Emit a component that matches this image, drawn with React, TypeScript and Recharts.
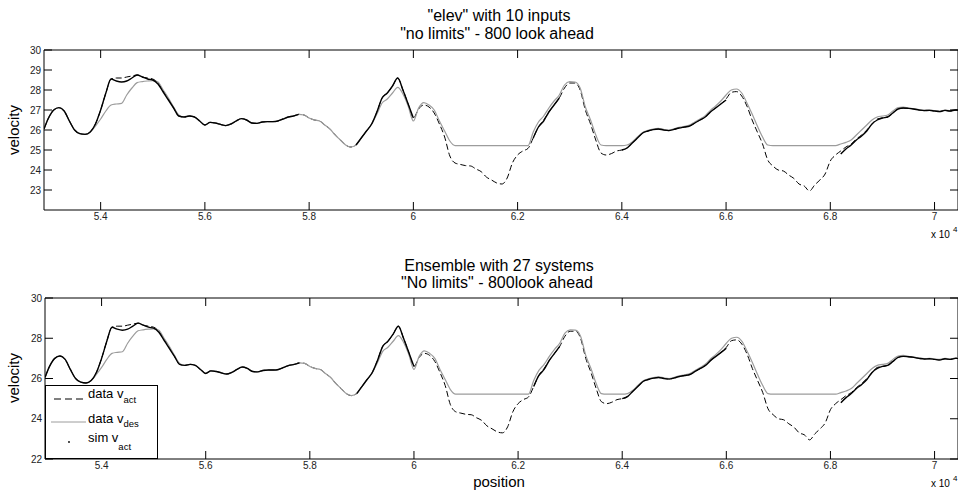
import React from "react";
import { LineChart, Line, XAxis, YAxis, ReferenceArea, Legend } from "recharts";

// position along the track (raw units, axis shows x 10^4)
const positions = [
  52913, 53000, 53100, 53200, 53300, 53400, 53500, 53600, 53700, 53800,
  53900, 54000, 54100, 54200, 54300, 54400, 54500, 54600, 54700, 54800,
  54900, 55000, 55100, 55200, 55300, 55400, 55500, 55600, 55700, 55800,
  55900, 56000, 56100, 56200, 56300, 56400, 56500, 56600, 56700, 56800,
  56900, 57000, 57100, 57200, 57300, 57400, 57500, 57600, 57700, 57800,
  57900, 58000, 58100, 58200, 58300, 58400, 58500, 58600, 58700, 58800,
  58900, 59000, 59100, 59200, 59300, 59400, 59500, 59600, 59700, 59800,
  59900, 60000, 60100, 60200, 60300, 60400, 60500, 60600, 60700, 60800,
  60900, 61000, 61100, 61200, 61300, 61400, 61500, 61600, 61700, 61800,
  61900, 62000, 62100, 62200, 62300, 62400, 62500, 62600, 62700, 62800,
  62900, 63000, 63100, 63200, 63300, 63400, 63500, 63600, 63700, 63800,
  63900, 64000, 64100, 64200, 64300, 64400, 64500, 64600, 64700, 64800,
  64900, 65000, 65100, 65200, 65300, 65400, 65500, 65600, 65700, 65800,
  65900, 66000, 66100, 66200, 66300, 66400, 66500, 66600, 66700, 66800,
  66900, 67000, 67100, 67200, 67300, 67400, 67500, 67600, 67700, 67800,
  67900, 68000, 68100, 68200, 68300, 68400, 68500, 68600, 68700, 68800,
  68900, 69000, 69100, 69200, 69300, 69400, 69500, 69600, 69700, 69800,
  69900, 70000, 70100, 70200, 70300, 70400, 70450,
];

// data v_act (dashed)
const vAct = [
  26.05, 26.6, 27.0, 27.12, 26.95, 26.45, 26.0, 25.82, 25.78, 25.9,
  26.3, 27.0, 27.85, 28.55, 28.6, 28.6, 28.65, 28.7, 28.75, 28.65,
  28.6, 28.55, 28.35, 27.95, 27.55, 27.1, 26.7, 26.65, 26.7, 26.65,
  26.45, 26.25, 26.38, 26.35, 26.28, 26.22, 26.3, 26.45, 26.57, 26.5,
  26.35, 26.33, 26.4, 26.42, 26.42, 26.45, 26.55, 26.65, 26.7, 26.78,
  26.75, 26.6, 26.5, 26.45, 26.25, 26.05, 25.75, 25.5, 25.25, 25.15,
  25.25, 25.6, 25.95, 26.3, 26.9, 27.6, 27.85, 28.2, 28.6, 28.0,
  27.3, 26.6, 27.05, 27.25, 27.15, 26.85, 26.3, 25.65, 24.7, 24.35,
  24.28, 24.22, 24.2, 24.05, 23.92, 23.65, 23.5, 23.35, 23.3, 23.6,
  24.35, 24.75, 24.95, 25.08, 25.6, 26.15, 26.5, 26.9, 27.25, 27.6,
  28.1, 28.35, 28.35, 28.0, 27.0, 26.3, 25.5, 24.85, 24.75, 24.82,
  24.95, 25.0, 25.1, 25.35, 25.6, 25.85, 25.95, 26.02, 26.05, 26.0,
  25.97, 26.03, 26.1, 26.15, 26.2, 26.35, 26.5, 26.65, 26.9, 27.1,
  27.3, 27.55, 27.88, 27.92, 27.7, 27.2, 26.5, 25.9, 25.3, 24.5,
  24.2, 24.0, 23.95, 23.75, 23.58, 23.3, 23.2, 22.95, 23.25, 23.5,
  23.8, 24.45, 24.75, 24.95, 25.15, 25.3, 25.55, 25.75, 26.0, 26.3,
  26.55, 26.6, 26.65, 26.85, 27.05, 27.1, 27.08, 27.05, 27.0, 26.97,
  26.98, 26.95, 26.92, 26.98, 26.95, 27.0, 27.0,
];

// data v_des (gray)
const vDes = [
  26.05, 26.6, 27.0, 27.12, 26.95, 26.45, 26.0, 25.82, 25.78, 25.9,
  26.2, 26.55, 26.95, 27.25, 27.3, 27.33, 27.75, 28.1, 28.37, 28.42,
  28.45, 28.47, 28.4, 28.0, 27.6, 27.15, 26.75, 26.65, 26.7, 26.65,
  26.45, 26.25, 26.38, 26.35, 26.28, 26.22, 26.3, 26.45, 26.57, 26.5,
  26.35, 26.33, 26.4, 26.42, 26.42, 26.45, 26.55, 26.65, 26.7, 26.78,
  26.75, 26.6, 26.5, 26.45, 26.25, 26.05, 25.75, 25.5, 25.25, 25.15,
  25.25, 25.6, 25.95, 26.3, 26.8, 27.35, 27.55, 27.85, 28.13, 27.8,
  27.2, 26.45, 27.1, 27.37, 27.25, 27.0, 26.45, 25.95, 25.45, 25.22,
  25.22, 25.22, 25.22, 25.22, 25.22, 25.22, 25.22, 25.22, 25.22, 25.22,
  25.22, 25.22, 25.22, 25.22, 25.9, 26.4, 26.7, 27.1, 27.45, 27.75,
  28.25, 28.42, 28.4, 28.1, 27.15, 26.5, 25.75, 25.25, 25.22, 25.22,
  25.22, 25.22, 25.25, 25.4, 25.65, 25.88, 25.98, 26.05, 26.08, 26.03,
  26.0, 26.06, 26.13, 26.18, 26.25, 26.4, 26.55, 26.72, 26.98, 27.2,
  27.45, 27.75, 28.0, 28.05, 27.85, 27.35, 26.8, 26.2, 25.65, 25.25,
  25.22, 25.22, 25.22, 25.22, 25.22, 25.22, 25.22, 25.22, 25.22, 25.22,
  25.22, 25.22, 25.22, 25.3, 25.38, 25.5, 25.75, 26.0, 26.25, 26.5,
  26.65, 26.7, 26.75, 26.95, 27.12, 27.15, 27.1, 27.07, 27.02, 26.99,
  27.0, 26.97, 26.95, 27.0, 26.97, 27.02, 27.02,
];

// sim v_act (dots, gaps where not plotted)
const vSim = [
  26.05, 26.6, 27.0, 27.12, 26.95, 26.45, 26.0, 25.82, 25.78, 25.9,
  26.3, 27.0, 27.85, 28.55, 28.45, 28.4, 28.45, 28.6, 28.75, 28.65,
  28.55, 28.5, 28.3, 27.9, 27.5, 27.1, 26.7, 26.65, 26.7, 26.65,
  26.45, 26.25, 26.38, 26.35, 26.28, 26.22, 26.3, 26.45, 26.57, 26.5,
  26.35, 26.33, 26.4, 26.42, 26.42, 26.45, 26.55, 26.65, 26.7, 26.78,
  null, null, null, null, null, null, null, null, null, null,
  25.25, 25.6, 25.95, 26.3, 26.9, 27.6, 27.85, 28.2, 28.6, 28.0,
  27.3, 26.6, null, null, null, null, null, null, null, null,
  null, null, null, null, null, null, null, null, null, null,
  null, null, null, null, 25.6, 26.15, 26.45, 26.9, 27.25, 27.6,
  null, null, null, null, null, null, null, null, null, null,
  null, 25.0, 25.1, 25.35, 25.6, 25.85, 25.95, 26.02, 26.05, 26.0,
  25.97, 26.03, 26.1, 26.15, 26.2, 26.35, 26.5, 26.65, 26.9, 27.1,
  27.3, 27.5, null, null, null, null, null, null, null, null,
  null, null, null, null, null, null, null, null, null, null,
  null, null, null, 24.8, 25.05, 25.25, 25.5, 25.7, 25.95, 26.3,
  26.5, 26.6, 26.65, 26.85, 27.05, 27.1, 27.08, 27.05, 27.0, 26.97,
  26.98, 26.95, 26.92, 26.98, 26.95, 27.0, 27.0,
];

const xTicks = [54000, 56000, 58000, 60000, 62000, 64000, 66000, 68000, 70000];
const yTicksTop = [23, 24, 25, 26, 27, 28, 29, 30];
const yTicksBottom = [22, 24, 26, 28, 30];

const X_MIN = 52913;
const X_MAX = 70450;
const FONT = "'Liberation Sans', Arial, Helvetica, sans-serif";
const GRAY = "#9c9c9c";

const rows = positions.map((p, i) => ({ pos: p, act: vAct[i], des: vDes[i], sim: vSim[i] }));

const fmtX = (v: number) => String(v / 1e4);

// MATLAB-like ticks: inward on both sides of the box
const makeXTick = (plotH: number) => (props: any) => {
  const { x, y, payload } = props;
  const axisY = y - 3;
  return (
    <g>
      <line x1={x} x2={x} y1={axisY} y2={axisY - 8} stroke="#000" />
      <line x1={x} x2={x} y1={axisY - plotH} y2={axisY - plotH + 8} stroke="#000" />
      <text x={x} y={axisY + 3} dy="0.72em" textAnchor="middle" fontSize={10} fill="#222" fontFamily={FONT}>
        {fmtX(payload.value)}
      </text>
    </g>
  );
};

const makeYTick = (plotW: number) => (props: any) => {
  const { x, y, payload } = props;
  const axisX = x + 3;
  return (
    <g>
      <line x1={axisX} x2={axisX + 8} y1={y} y2={y} stroke="#000" />
      <line x1={axisX + plotW} x2={axisX + plotW - 8} y1={y} y2={y} stroke="#000" />
      <text x={x} y={y} dy="0.36em" textAnchor="end" fontSize={10} fill="#222" fontFamily={FONT}>
        {payload.value}
      </text>
    </g>
  );
};

const renderLegend = () => (
  <svg width={111} height={72} style={{ display: "block" }}>
    <line x1={8} x2={40} y1={13} y2={13} stroke="#000" strokeDasharray="7 4" />
    <text x={42} y={12} fontSize={13} fontFamily={FONT} fill="#000">
      data v<tspan fontSize={9.5} dy={5}>act</tspan>
    </text>
    <line x1={5} x2={40} y1={36} y2={36} stroke={GRAY} />
    <text x={42} y={37} fontSize={13} fontFamily={FONT} fill="#000">
      data v<tspan fontSize={9.5} dy={4}>des</tspan>
    </text>
    <circle cx={23} cy={56} r={0.9} fill="#000" />
    <text x={42} y={56} fontSize={13} fontFamily={FONT} fill="#000">
      sim v<tspan fontSize={9.5} dy={8}>act</tspan>
    </text>
  </svg>
);

export default function App() {
  return (
    <div style={{ position: "absolute", left: 0, top: 0, width: 958, height: 493, background: "#fff", overflow: "hidden" }}>
      <div style={{ position: "absolute", left: 0, top: 0 }}>
        <LineChart width={958} height={240} data={rows} margin={{ top: 50, right: 0, bottom: 0, left: 0 }}>
          <XAxis
            dataKey="pos"
            type="number"
            domain={[X_MIN, X_MAX]}
            allowDataOverflow
            ticks={xTicks}
            interval={0}
            height={30}
            tickSize={0}
            tickMargin={3}
            axisLine={false}
            tick={makeXTick(160)}
          />
          <YAxis
            type="number"
            domain={[22, 30]}
            allowDataOverflow
            ticks={yTicksTop}
            interval={0}
            width={44}
            tickSize={0}
            tickMargin={3}
            axisLine={false}
            tick={makeYTick(914)}
          />
          <Line type="monotone" dataKey="act" stroke="#000" strokeWidth={1} strokeDasharray="6 3" dot={false} isAnimationActive={false} connectNulls={false} />
          <Line type="monotone" dataKey="des" stroke={GRAY} strokeWidth={1.2} dot={false} isAnimationActive={false} />
          <Line type="monotone" dataKey="sim" stroke="#000" strokeWidth={1.4} dot={false} isAnimationActive={false} connectNulls={false} />
          <ReferenceArea x1={X_MIN} x2={X_MAX} y1={22} y2={30} fill="none" stroke="#000" strokeWidth={1} ifOverflow="visible" />
        </LineChart>
      </div>
      <div style={{ position: "absolute", left: 0, top: 250 }}>
        <LineChart width={958} height={243} data={rows} margin={{ top: 48, right: 0, bottom: 0, left: 0 }}>
          <XAxis
            dataKey="pos"
            type="number"
            domain={[X_MIN, X_MAX]}
            allowDataOverflow
            ticks={xTicks}
            interval={0}
            height={34}
            tickSize={0}
            tickMargin={3}
            axisLine={false}
            tick={makeXTick(161)}
          />
          <YAxis
            type="number"
            domain={[22, 30]}
            allowDataOverflow
            ticks={yTicksBottom}
            interval={0}
            width={45}
            tickSize={0}
            tickMargin={3}
            axisLine={false}
            tick={makeYTick(913)}
          />
          <Line type="monotone" name="data v act" dataKey="act" stroke="#000" strokeWidth={1} strokeDasharray="6 3" dot={false} isAnimationActive={false} connectNulls={false} />
          <Line type="monotone" name="data v des" dataKey="des" stroke={GRAY} strokeWidth={1.2} dot={false} isAnimationActive={false} />
          <Line type="monotone" name="sim v act" dataKey="sim" stroke="#000" strokeWidth={1.4} dot={false} isAnimationActive={false} connectNulls={false} />
          <ReferenceArea x1={X_MIN} x2={X_MAX} y1={22} y2={30} fill="none" stroke="#000" strokeWidth={1} ifOverflow="visible" />
          <Legend
            layout="vertical"
            align="center"
            verticalAlign="middle"
            content={renderLegend}
            wrapperStyle={{
              left: 45,
              top: 135,
              width: 113,
              height: 74,
              border: "1px solid #000",
              background: "#fff",
              boxSizing: "border-box",
            }}
          />
        </LineChart>
      </div>
      <svg width={958} height={493} style={{ position: "absolute", left: 0, top: 0, pointerEvents: "none" }} fontFamily={FONT}>
        <text x={499} y={21} fontSize={16} textAnchor="middle">"elev" with 10 inputs</text>
        <text x={497} y={39} fontSize={16} textAnchor="middle">"no limits" - 800 look ahead</text>
        <text x={499} y={271} fontSize={16} textAnchor="middle">Ensemble with 27 systems</text>
        <text x={497} y={288} fontSize={16} textAnchor="middle">"No limits" - 800look ahead</text>
        <text x={19} y={130} fontSize={15} textAnchor="middle" transform="rotate(-90 19 130)">velocity</text>
        <text x={19} y={378} fontSize={15} textAnchor="middle" transform="rotate(-90 19 378)">velocity</text>
        <text x={499} y={487} fontSize={15} textAnchor="middle">position</text>
        <text x={931} y={238} fontSize={10}>x 10</text>
        <text x={953} y={232} fontSize={8}>4</text>
        <text x={931} y={487} fontSize={10}>x 10</text>
        <text x={953} y={481} fontSize={8}>4</text>
      </svg>
    </div>
  );
}
